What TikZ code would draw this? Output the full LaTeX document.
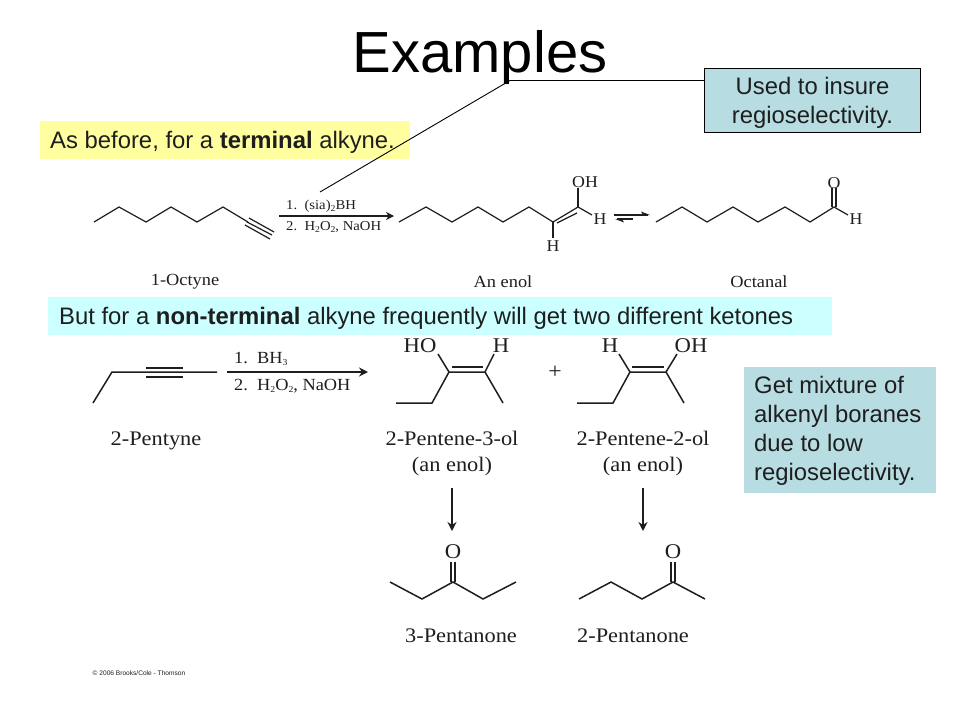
\documentclass[tikz,border=0pt]{standalone}
\usepackage{fontspec}
\setmainfont{Liberation Sans}
\newfontfamily\chemfont[FakeStretch=1.08]{Liberation Serif}
\usetikzlibrary{arrows.meta}
\newcommand{\chemsub}[1]{\raisebox{-2.5pt}{\fontsize{9}{9}\selectfont #1}}
\definecolor{ink}{HTML}{1E1E1E}
\definecolor{noteblue}{HTML}{B7DDE3}
\definecolor{noteyellow}{HTML}{FFFFA0}
\definecolor{notecyan}{HTML}{CCFFFF}
\tikzset{
  bond/.style={draw=ink,line width=1.2pt,line join=miter},
  bigbond/.style={draw=ink,line width=1.5pt,line join=miter},
  rxn/.style={draw=ink,line width=1.2pt,-{Stealth[length=8pt,width=8pt,inset=2.5pt]}},
  bigrxn/.style={draw=ink,line width=1.5pt,-{Stealth[length=9pt,width=9pt,inset=3pt]}},
  chemlabel/.style={text=ink,inner sep=0pt,font=\chemfont\fontsize{17}{24}\selectfont,align=center},
  bigchemlabel/.style={text=ink,inner sep=0pt,font=\chemfont\fontsize{20.7}{26}\selectfont,align=center},
  reagent/.style={text=ink,inner sep=0pt,anchor=west,font=\chemfont\fontsize{13.6}{17}\selectfont},
  bigreagent/.style={text=ink,inner sep=0pt,anchor=west,font=\chemfont\fontsize{17}{20}\selectfont},
  atom/.style={text=ink,inner sep=0pt,font=\chemfont\fontsize{21}{24}\selectfont},
  smallatom/.style={text=ink,inner sep=0pt,font=\chemfont\fontsize{16.5}{20}\selectfont},
  notetext/.style={inner sep=0pt,text=ink,align=left,font=\fontsize{23.85}{29}\selectfont},
}
\begin{document}
\begin{tikzpicture}[x=1pt,y=-1pt]
\useasboundingbox (0,0) rectangle (960,720);
\fill[white] (0,0) rectangle (960,720);

% title
\node[inner sep=0pt,anchor=base,font=\fontsize{58}{62}\selectfont] (title) at (480,72) {Examples};

% note boxes
\node[draw=black,line width=0.9pt,fill=noteblue,minimum width=216pt,minimum height=64pt,inner sep=0pt] (used) at (812.5,100.5) {};
\node[notetext,align=center] (usedtext) at (812.5,103) {Used to insure\\regioselectivity.};
\node[fill=noteyellow,minimum width=370pt,minimum height=38pt,inner sep=0pt] (before) at (225,140) {};
\node[notetext,anchor=west] (beforetext) at (50,142) {As before, for a \textbf{terminal} alkyne.};
\node[fill=notecyan,minimum width=784pt,minimum height=38pt,inner sep=0pt] (nonterm) at (440,316) {};
\node[notetext,anchor=west] (nontermtext) at (59,318) {But for a \textbf{non-terminal} alkyne frequently will get two different ketones};
\node[fill=noteblue,minimum width=192pt,minimum height=126pt,inner sep=0pt] (mix) at (840,430) {};
\node[notetext,anchor=west] (mixtext) at (754,431) {Get mixture of\\alkenyl boranes\\due to low\\regioselectivity.};

% callout
\coordinate (calloutend) at (320,192);
\coordinate (calloutknee) at (510,80.5);
\draw[black,line width=0.9pt] (used.west |- calloutknee) -- (calloutknee) -- (calloutend);

% 1-octyne
\draw[bond] (94,222)--(119,207)--(146,222)--(171,207)--(197,222)--(223,207)--(248,222);
\draw[bond] (249,218)--(274,232) (247,222)--(272,235) (245,225)--(270,239);
\coordinate (a1s) at (279,216); \coordinate (a1e) at (394,216);
\draw[rxn] (a1s)--(a1e);
\node[reagent] (r1a) at (286,206) {1.\ \ (sia)\chemsub{2}BH};
\node[reagent] (r1b) at (286,227) {2.\ \ H\chemsub{2}O\chemsub{2}, NaOH};
\node[chemlabel] (l1) at (185,282) {1-Octyne};

% enol
\draw[bond] (399,222)--(426,207)--(452,222)--(478,207)--(503,222)--(529,207)--(553,222)--(578,207)--(592,215);
\draw[bond] (557,223)--(577,213);
\draw[bond] (578,207)--(578,188);
\draw[bond] (553,222)--(553,238);
\node[smallatom] (oh1) at (585,182) {OH};
\node[smallatom] (h1) at (600,219) {H};
\node[smallatom] (h2) at (553,246) {H};
\node[chemlabel] (l2) at (503,282) {An enol};

% equilibrium
\draw[ink,line width=1.1pt] (614,215)--(648,215);
\fill[ink] (650,215)--(641,211.5)--(643,215)--cycle;
\draw[ink,line width=1.1pt] (617,219)--(633,219);
\fill[ink] (615,219)--(624,222.5)--(622,219)--cycle;

% octanal
\draw[bond] (656,222)--(682,207)--(707,222)--(733,207)--(758,222)--(785,207)--(810,222)--(834,207)--(848,215);
\draw[bond] (832,207)--(832,188) (836,207)--(836,188);
\node[smallatom] (o1) at (834,183) {O};
\node[smallatom] (h3) at (856,219) {H};
\node[chemlabel] (l3) at (759,282) {Octanal};

% 2-pentyne
\draw[bigbond] (93,403)--(112,372)--(217,372);
\draw[bigbond] (146,368)--(183,368) (146,377)--(183,377);
\coordinate (a2s) at (227,372); \coordinate (a2e) at (368,372);
\draw[bigrxn] (a2s)--(a2e);
\node[bigreagent] (r2a) at (234,359) {1.\ \ BH\chemsub{3}};
\node[bigreagent] (r2b) at (234,386) {2.\ \ H\chemsub{2}O\chemsub{2}, NaOH};
\node[bigchemlabel] (l4) at (156,441) {2-Pentyne};

% 2-pentene-3-ol
\draw[bigbond] (396,403)--(432,403)--(449,372)--(485,372)--(503,403);
\draw[bigbond] (452,367)--(483,367);
\draw[bigbond] (449,372)--(438,354) (485,372)--(494,354);
\node[atom] (ho2) at (420,346) {HO};
\node[atom] (h4) at (501,346) {H};
\node[bigchemlabel] (l5) at (452,454) {2-Pentene-3-ol\\(an enol)};

\node[text=ink,inner sep=0pt,font=\chemfont\fontsize{22}{24}\selectfont] (plus) at (555,372) {+};

% 2-pentene-2-ol
\draw[bigbond] (577,403)--(613,403)--(630,372)--(666,372)--(684,403);
\draw[bigbond] (632,367)--(664,367);
\draw[bigbond] (630,372)--(619,354) (666,372)--(677,354);
\node[atom] (h5) at (610,346) {H};
\node[atom] (oh2) at (691,346) {OH};
\node[bigchemlabel] (l6) at (643,454) {2-Pentene-2-ol\\(an enol)};

% down arrows
\coordinate (a3s) at (452,488); \coordinate (a3e) at (452,531);
\coordinate (a4s) at (643,488); \coordinate (a4e) at (643,531);
\draw[bigrxn] (a3s)--(a3e);
\draw[bigrxn] (a4s)--(a4e);

% 3-pentanone
\draw[bigbond] (390,582)--(422,599)--(453,582)--(483,599)--(516,582);
\draw[bigbond] (451,582)--(451,562) (455,582)--(455,562);
\node[atom] (o2) at (453,552) {O};
\node[bigchemlabel] (l7) at (461,636) {3-Pentanone};

% 2-pentanone
\draw[bigbond] (579,599)--(611,582)--(642,599)--(673,582)--(705,599);
\draw[bigbond] (671,582)--(671,562) (675,582)--(675,562);
\node[atom] (o3) at (673,552) {O};
\node[bigchemlabel] (l8) at (633,636) {2-Pentanone};

% copyright
\node[inner sep=0pt,text=ink,font=\fontsize{6.6}{8}\selectfont] (copy) at (139,673) {© 2006 Brooks/Cole - Thomson};
\end{tikzpicture}
\end{document}
